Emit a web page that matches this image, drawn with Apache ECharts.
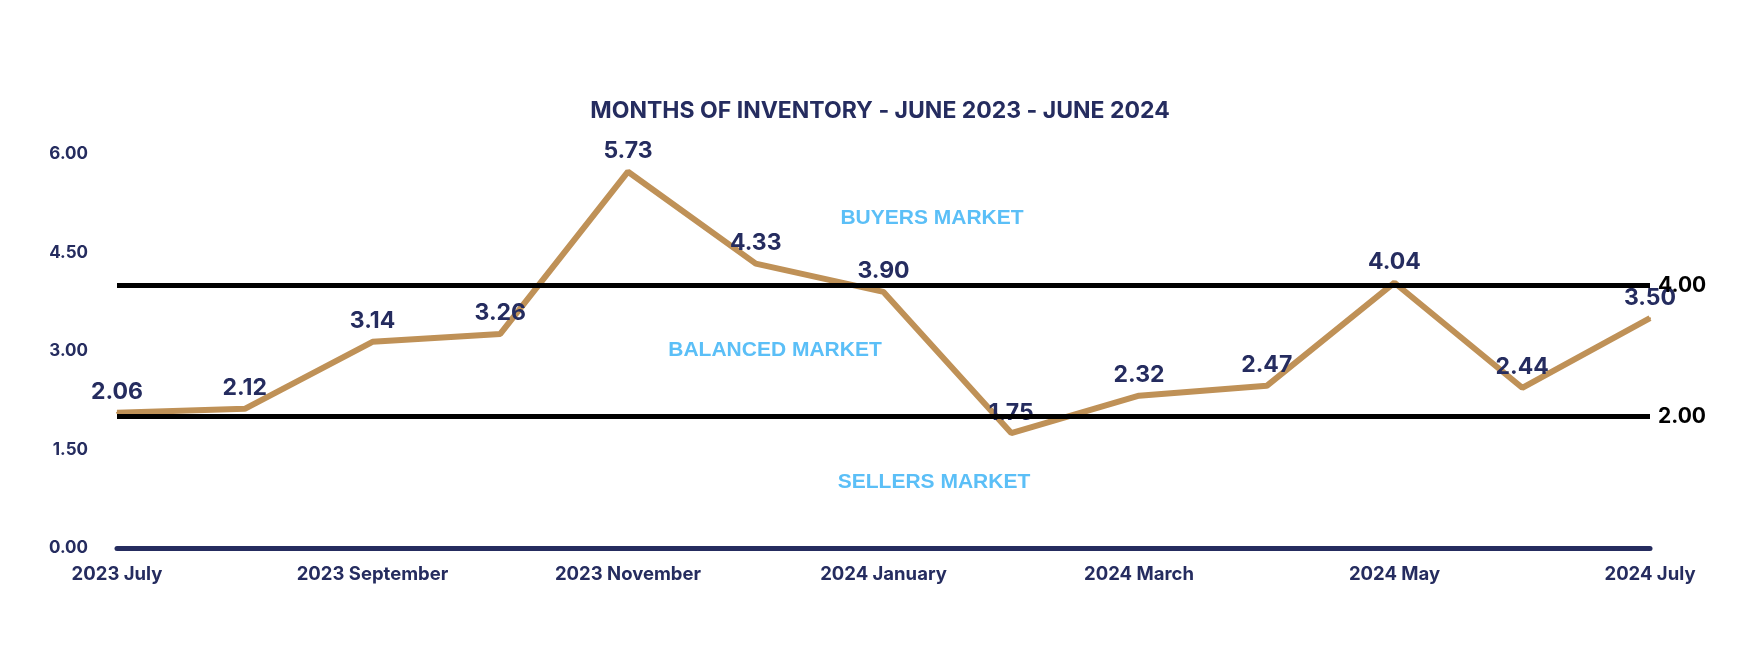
<!DOCTYPE html>
<html>
<head>
<meta charset="utf-8">
<title>Months of Inventory</title>
<script src="https://cdn.jsdelivr.net/npm/echarts@6/dist/echarts.min.js"></script>
<style>
  html, body { margin: 0; padding: 0; background: #fff; }
  #chart { width: 1760px; height: 660px; }
</style>
</head>
<body>
<div id="chart"></div>
<script>
  // data
  const months = ['2023 July', '2023 August', '2023 September', '2023 October', '2023 November',
    '2023 December', '2024 January', '2024 February', '2024 March', '2024 April',
    '2024 May', '2024 June', '2024 July'];
  const inventory = [2.06, 2.12, 3.14, 3.26, 5.73, 4.33, 3.90, 1.75, 2.32, 2.47, 4.04, 2.44, 3.50];
  const thresholds = [4.00, 2.00];
  const zones = ['BUYERS MARKET', 'BALANCED MARKET', 'SELLERS MARKET'];

  const navy = '#252c5f';
  const gold = '#bf9157';
  const sky = '#5bbff7';
  const font = 'Inter';
  const zoneFont = 'bold 21px "Liberation Sans"';

  const myChart = echarts.init(document.getElementById('chart'));
  myChart.setOption({
    animation: false,
    title: {
      text: 'MONTHS OF INVENTORY - JUNE 2023 - JUNE 2024',
      left: 'center',
      top: 95,
      textStyle: { color: navy, fontFamily: font, fontWeight: 700, fontSize: 23 }
    },
    grid: { left: 117, right: 110, top: 154, bottom: 112 },
    xAxis: {
      type: 'category',
      data: months,
      boundaryGap: false,
      axisLine: { lineStyle: { color: navy, width: 5 } },
      axisTick: { show: false },
      axisLabel: {
        interval: 1,
        color: navy, fontFamily: font, fontWeight: 700, fontSize: 18.5, margin: 17
      }
    },
    yAxis: {
      type: 'value',
      min: 0, max: 6, interval: 1.5,
      splitLine: { show: false },
      axisLine: { show: false },
      axisTick: { show: false },
      axisLabel: {
        color: navy, fontFamily: font, fontWeight: 700, fontSize: 17, margin: 29,
        formatter: v => v.toFixed(2)
      }
    },
    graphic: [
      { type: 'text', x: 932, y: 218, style: { text: zones[0], fill: sky, font: zoneFont, textAlign: 'center', textVerticalAlign: 'middle' } },
      { type: 'text', x: 775, y: 350, style: { text: zones[1], fill: sky, font: zoneFont, textAlign: 'center', textVerticalAlign: 'middle' } },
      { type: 'text', x: 934, y: 482, style: { text: zones[2], fill: sky, font: zoneFont, textAlign: 'center', textVerticalAlign: 'middle' } }
    ],
    series: [
      {
        // threshold lines kept under the gold line
        type: 'line',
        data: [],
        z: 1,
        markLine: {
          silent: true,
          symbol: 'none',
          lineStyle: { color: '#000', width: 5, type: 'solid' },
          label: {
            position: 'end', distance: 8, color: '#000',
            fontFamily: font, fontWeight: 700, fontSize: 21,
            formatter: p => p.value.toFixed(2)
          },
          data: thresholds.map(v => ({ yAxis: v }))
        }
      },
      {
        type: 'line',
        data: inventory,
        z: 3,
        symbol: 'circle',
        symbolSize: 2,
        showSymbol: true,
        itemStyle: { color: gold },
        lineStyle: { color: gold, width: 6 },
        label: {
          show: true, position: 'top', distance: 8,
          color: navy, fontFamily: font, fontWeight: 700, fontSize: 23,
          formatter: p => p.value.toFixed(2)
        }
      }
    ]
  });
</script>
</body>
</html>
